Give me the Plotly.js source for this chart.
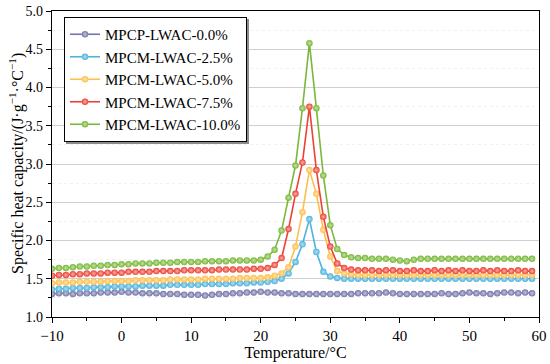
<!DOCTYPE html>
<html>
<head>
<meta charset="utf-8">
<script src="https://cdn.plot.ly/plotly-3.0.1.min.js"></script>
<style>
html,body{margin:0;padding:0;background:#fff;}
#chart{width:550px;height:364px;}
#chart .legend rect.bg{filter:drop-shadow(2.5px 2.5px 0px #8c8c8c);}
</style>
</head>
<body>
<div id="chart"></div>
<script>
// Temperature (°C)
const temperature = [-10,-9,-8,-7,-6,-5,-4,-3,-2,-1,0,1,2,3,4,5,6,7,8,9,10,11,12,13,14,15,16,17,18,19,20,21,22,23,24,25,26,27,28,29,30,31,32,33,34,35,36,37,38,39,40,41,42,43,44,45,46,47,48,49,50,51,52,53,54,55,56,57,58,59];

const seriesNames = ["MPCP-LWAC-0.0%","MPCM-LWAC-2.5%","MPCM-LWAC-5.0%","MPCM-LWAC-7.5%","MPCM-LWAC-10.0%"];

const cp00 = [1.30,1.31,1.31,1.30,1.31,1.31,1.31,1.32,1.32,1.32,1.33,1.32,1.32,1.31,1.31,1.31,1.30,1.30,1.30,1.29,1.29,1.29,1.28,1.29,1.30,1.30,1.31,1.31,1.32,1.32,1.33,1.32,1.32,1.31,1.31,1.30,1.30,1.30,1.30,1.30,1.30,1.30,1.30,1.30,1.31,1.31,1.31,1.31,1.32,1.31,1.30,1.30,1.30,1.30,1.30,1.30,1.31,1.30,1.30,1.31,1.32,1.31,1.31,1.30,1.31,1.32,1.32,1.31,1.32,1.31];

const cp25 = [1.36,1.37,1.37,1.38,1.38,1.38,1.39,1.39,1.39,1.40,1.40,1.40,1.40,1.41,1.41,1.41,1.41,1.42,1.42,1.42,1.42,1.42,1.43,1.43,1.43,1.43,1.44,1.44,1.44,1.45,1.45,1.46,1.47,1.50,1.57,1.72,1.95,2.28,1.85,1.59,1.53,1.51,1.50,1.50,1.50,1.50,1.50,1.50,1.50,1.50,1.50,1.50,1.50,1.50,1.50,1.50,1.50,1.50,1.50,1.50,1.50,1.50,1.50,1.50,1.50,1.50,1.50,1.50,1.50,1.50];

const cp50 = [1.44,1.45,1.45,1.45,1.46,1.46,1.46,1.46,1.47,1.47,1.47,1.47,1.48,1.48,1.48,1.48,1.48,1.49,1.49,1.49,1.49,1.49,1.50,1.50,1.50,1.50,1.50,1.51,1.51,1.51,1.51,1.52,1.54,1.57,1.65,1.92,2.37,2.92,2.61,2.14,1.79,1.60,1.57,1.56,1.55,1.55,1.55,1.55,1.55,1.55,1.55,1.55,1.55,1.55,1.55,1.55,1.55,1.55,1.55,1.55,1.55,1.55,1.55,1.55,1.55,1.55,1.55,1.55,1.55,1.55];

const cp75 = [1.54,1.55,1.55,1.56,1.56,1.57,1.57,1.57,1.58,1.58,1.58,1.59,1.59,1.59,1.59,1.60,1.60,1.60,1.60,1.61,1.61,1.61,1.61,1.61,1.62,1.62,1.62,1.62,1.62,1.63,1.63,1.64,1.68,1.77,2.15,2.61,3.02,3.75,2.92,2.31,1.92,1.70,1.64,1.62,1.61,1.61,1.61,1.60,1.61,1.61,1.60,1.60,1.61,1.60,1.60,1.61,1.60,1.61,1.60,1.61,1.60,1.60,1.61,1.60,1.61,1.60,1.60,1.61,1.60,1.60];

const cp100 = [1.63,1.64,1.64,1.65,1.66,1.66,1.67,1.67,1.68,1.68,1.69,1.69,1.70,1.70,1.70,1.71,1.71,1.71,1.72,1.72,1.72,1.72,1.73,1.73,1.73,1.73,1.74,1.74,1.74,1.74,1.75,1.79,1.88,2.13,2.56,2.98,3.73,4.58,3.73,2.85,2.20,1.89,1.81,1.78,1.77,1.77,1.76,1.76,1.76,1.75,1.74,1.73,1.75,1.76,1.76,1.76,1.76,1.76,1.76,1.76,1.76,1.76,1.76,1.76,1.76,1.76,1.76,1.76,1.76,1.76];

const seriesColors = ["#7676aa","#4fb3dc","#fdbf4d","#ec4236","#79b83a"];
const highlightColors = ["#c4c4dc","#b4e0f2","#ffe4b0","#f8b0aa","#c4e2a4"];
const seriesData = [cp00, cp25, cp50, cp75, cp100];

const traces = seriesData.map((ys, i) => ({
  x: temperature,
  y: ys,
  name: seriesNames[i],
  type: "scatter",
  mode: "lines+markers",
  line: {color: seriesColors[i], width: 1.6},
  marker: {symbol: "circle", size: 6.5, color: seriesColors[i],
           gradient: {type: "radial", color: highlightColors[i]},
           line: {width: 0}}
}));

const fontFam = "Liberation Serif, Times New Roman, serif";
const M = {l: 52, r: 11, t: 11, b: 47};
const PW = 550 - M.l - M.r, PH = 364 - M.t - M.b;
const px2x = p => (p - M.l) / PW;
const px2y = p => 1 - (p - M.t) / PH;

const layout = {
  width: 550, height: 364,
  margin: {l: M.l, r: M.r, t: M.t, b: M.b},
  paper_bgcolor: "#fff", plot_bgcolor: "#fff",
  font: {family: fontFam, size: 15, color: "#000"},
  showlegend: true,
  legend: {x: px2x(64), y: px2y(17), xanchor: "left", yanchor: "top",
           bgcolor: "#fff", bordercolor: "#000", borderwidth: 1,
           font: {family: fontFam, size: 15, color: "#000"},
           tracegroupgap: 0, itemwidth: 30},
  xaxis: {
    range: [-10, 60], dtick: 10, tick0: 0,
    showline: true, linecolor: "#000", linewidth: 1.2, mirror: true,
    ticks: "outside", ticklen: 5, tickcolor: "#000", tickwidth: 1,
    minor: {dtick: 5, ticks: "outside", ticklen: 3, tickcolor: "#000", showgrid: false},
    showgrid: false, zeroline: false,
    tickfont: {family: fontFam, size: 15},
    title: {text: "Temperature/°C", font: {family: fontFam, size: 16}, standoff: 3}
  },
  yaxis: {
    range: [1.0, 5.0], dtick: 0.5, tick0: 1.0, tickformat: ".1f",
    showline: true, linecolor: "#000", linewidth: 1.2, mirror: true,
    ticks: "outside", ticklen: 5, tickcolor: "#000", tickwidth: 1,
    minor: {dtick: 0.25, ticks: "outside", ticklen: 3, tickcolor: "#000",
            showgrid: true, gridcolor: "#f2f2f2", griddash: "dot", gridwidth: 1},
    showgrid: true, gridcolor: "#d0d0d0", gridwidth: 1, zeroline: false,
    tickfont: {family: fontFam, size: 14}
  },
  annotations: [{
    text: "Specific heat capacity/(J·g<sup>−1</sup>·°C<sup>−1</sup>)",
    xref: "paper", yref: "paper", x: px2x(16), y: 0.5,
    xanchor: "center", yanchor: "middle", textangle: -90, showarrow: false,
    font: {family: fontFam, size: 16, color: "#000"}
  }]
};

Plotly.newPlot("chart", traces, layout, {displayModeBar: false, staticPlot: true});
</script>
</body>
</html>
